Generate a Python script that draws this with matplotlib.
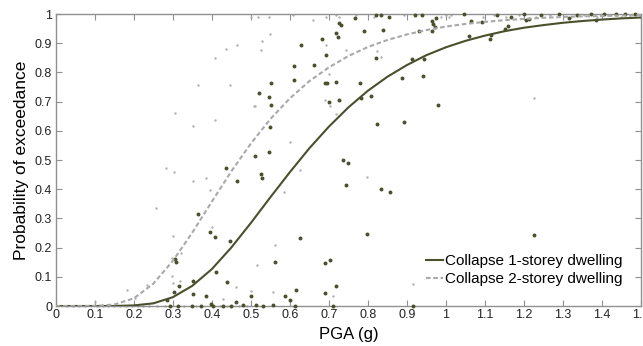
import numpy as np
import matplotlib
matplotlib.use("Agg")
import matplotlib.pyplot as plt

plt.rcParams['font.family'] = ['Liberation Sans', 'DejaVu Sans']

# fragility curves
pga = [0.0, 0.05, 0.10, 0.15, 0.20, 0.25, 0.30, 0.35, 0.40, 0.45, 0.50,
       0.55, 0.60, 0.65, 0.70, 0.75, 0.80, 0.85, 0.90, 0.95, 1.00,
       1.05, 1.10, 1.15, 1.20, 1.25, 1.30, 1.35, 1.40, 1.45, 1.50]
p_1storey = [0.0, 0.0, 0.0, 0.0001, 0.002, 0.009, 0.030, 0.069, 0.126, 0.200, 0.284,
             0.372, 0.458, 0.540, 0.614, 0.680, 0.737, 0.785, 0.825, 0.859, 0.886,
             0.908, 0.926, 0.941, 0.953, 0.962, 0.970, 0.976, 0.981, 0.985, 0.988]
p_2storey = [0.0, 0.0, 0.0002, 0.005, 0.026, 0.076, 0.154, 0.251, 0.357, 0.461, 0.556,
             0.640, 0.711, 0.770, 0.817, 0.856, 0.887, 0.911, 0.930, 0.945, 0.957,
             0.966, 0.973, 0.979, 0.983, 0.987, 0.990, 0.992, 0.993, 0.995, 0.996]

# observed points, 1-storey (dark)
x1 = [0.629, 0.683, 0.693, 0.719, 0.724, 0.727, 0.732, 0.768, 0.791, 0.838, 0.853,
      0.612, 0.661, 0.611, 0.551, 0.520, 0.548, 0.552, 0.690, 0.696, 0.719, 0.780,
      0.700, 0.727, 0.782, 0.807, 0.822, 0.888, 0.913, 0.944, 0.941, 0.964, 0.968,
      0.972, 0.976, 0.965, 0.932, 0.980, 0.824, 0.894, 0.550, 0.546, 0.511,
      1.064, 1.092, 1.060, 1.113, 1.115, 1.152, 1.160, 1.166, 1.206, 1.213, 1.315,
      1.384, 1.226,
      0.436, 0.465, 0.365, 0.395, 0.408, 0.448, 0.305, 0.308, 0.410, 0.353, 0.315,
      0.303, 0.440, 0.352, 0.384, 0.286, 0.463, 0.501, 0.736, 0.749, 0.525, 0.529,
      0.744, 0.834, 0.858, 0.797, 0.627, 0.562, 0.691, 0.702, 0.719, 0.615, 0.587,
      0.600, 0.691,
      0.292, 0.314, 0.350, 0.373, 0.399, 0.403, 0.430, 0.450, 0.480, 0.514, 0.531,
      0.556, 0.614, 0.710, 0.917,
      0.821, 0.834, 0.921, 0.940, 1.047, 1.132, 1.200, 1.243, 1.290, 1.337, 1.371,
      1.405, 1.435, 1.460, 1.486]
y1 = [0.893, 0.914, 0.861, 0.935, 0.921, 0.969, 0.963, 0.986, 0.941, 0.945, 0.990,
      0.821, 0.825, 0.774, 0.764, 0.728, 0.717, 0.688, 0.763, 0.763, 0.768, 0.763,
      0.700, 0.705, 0.712, 0.720, 0.848, 0.782, 0.845, 0.847, 0.789, 0.977, 0.965,
      0.955, 0.985, 0.941, 0.943, 0.688, 0.624, 0.629, 0.613, 0.527, 0.513,
      0.975, 0.973, 0.924, 0.914, 0.929, 0.950, 0.958, 0.990, 0.981, 0.983, 0.986,
      0.981, 0.243,
      0.474, 0.429, 0.316, 0.252, 0.236, 0.224, 0.161, 0.152, 0.118, 0.087, 0.067,
      0.048, 0.083, 0.040, 0.035, 0.020, 0.013, 0.035, 0.500, 0.489, 0.453, 0.439,
      0.413, 0.401, 0.389, 0.248, 0.232, 0.152, 0.148, 0.159, 0.067, 0.056, 0.035,
      0.021, 0.043,
      0.0, 0.0, 0.0, 0.0, 0.006, 0.0, 0.0, 0.0, 0.003, 0.003, 0.0,
      0.003, 0.0, 0.001, 0.0,
      0.997, 0.997, 0.998, 0.996, 0.999, 0.998, 0.999, 0.998, 0.999, 0.998, 0.999,
      0.999, 0.999, 1.0, 1.0]

# observed points, 2-storey (light grey)
x2 = [0.305, 0.352, 0.365, 0.409, 0.409, 0.436, 0.448, 0.465, 0.508, 0.550, 0.528,
      0.527, 0.659, 0.693, 0.700, 0.744, 0.824, 0.834, 0.511, 0.691, 0.702, 0.719,
      0.601, 1.226, 0.284, 0.303, 0.352, 0.384, 0.395, 0.258, 0.301, 0.401, 0.297,
      0.320, 0.298, 0.301, 0.318, 0.235, 0.184, 0.463, 0.501, 0.429, 0.203, 0.100,
      0.625, 0.586, 0.797, 0.562, 0.516, 0.917, 0.556, 0.710,
      0.030, 0.045, 0.060, 0.075, 0.090, 0.105, 0.120, 0.135, 0.150, 0.165, 0.180,
      0.195, 0.210, 0.225, 0.240, 0.260, 0.280, 0.330, 0.360, 0.420, 0.440, 0.470,
      0.490,
      0.500, 0.518, 0.548, 0.608, 0.693, 0.719, 0.727, 0.770, 0.817, 0.893, 0.987,
      1.000, 1.008, 1.014, 1.094, 1.124, 1.153, 1.187, 1.230, 1.268, 1.320, 1.354,
      1.388, 1.422, 1.448, 1.473]
y2 = [0.660, 0.616, 0.757, 0.849, 0.636, 0.881, 0.757, 0.893, 0.685, 0.932, 0.906,
      0.878, 0.981, 0.893, 0.795, 0.878, 0.874, 0.853, 0.684, 0.707, 0.684, 0.658,
      0.562, 0.713, 0.471, 0.458, 0.429, 0.439, 0.397, 0.337, 0.240, 0.272, 0.163,
      0.180, 0.104, 0.080, 0.086, 0.072, 0.055, 0.066, 0.052, 0.024, 0.028, 0.015,
      0.466, 0.391, 0.443, 0.209, 0.140, 0.075, 0.049, 0.035,
      0.0, 0.0, 0.0, 0.0, 0.0, 0.0, 0.0, 0.0, 0.0, 0.0, 0.0,
      0.0, 0.0, 0.0, 0.0, 0.0, 0.0, 0.0, 0.0, 0.0, 0.0, 0.0,
      0.0,
      0.99, 0.99, 0.99, 0.995, 0.99, 0.995, 0.99, 0.995, 0.99, 0.995, 0.99,
      0.995, 0.99, 0.995, 0.99, 0.995, 0.99, 0.995, 0.99, 0.995, 0.99, 0.995,
      0.99, 0.995, 0.99, 0.995]

xticks = np.round(np.arange(0, 1.51, 0.1), 1)
xticklabels = ['0', '0.1', '0.2', '0.3', '0.4', '0.5', '0.6', '0.7', '0.8', '0.9',
               '1', '1.1', '1.2', '1.3', '1.4', '1.5']
yticks = np.round(np.arange(0, 1.01, 0.1), 1)
yticklabels = ['0', '0.1', '0.2', '0.3', '0.4', '0.5', '0.6', '0.7', '0.8', '0.9', '1']

dark = '#4b4f2c'
grey = '#a9a9a9'

fig = plt.figure(figsize=(6.43, 3.46), dpi=100)
ax = fig.add_axes([0.0866, 0.1156, 0.9102, 0.8439])

ax.scatter(x2, y2, s=3, color='#b0b0b0', linewidths=0, clip_on=False, zorder=2)
ax.scatter(x1, y1, s=8, color=dark, linewidths=0, clip_on=False, zorder=3)

ax.plot(pga, p_1storey, color=dark, lw=1.5, label='Collapse 1-storey dwelling', zorder=4)
ax.plot(pga, p_2storey, color=grey, lw=1.5, ls=(0, (2.2, 1.3)),
        label='Collapse 2-storey dwelling', zorder=4)

ax.set_xlim(0, 1.5)
ax.set_ylim(0, 1)
ax.set_xticks(xticks)
ax.set_xticklabels(xticklabels)
ax.set_yticks(yticks)
ax.set_yticklabels(yticklabels)
ax.tick_params(direction='in', top=True, right=True, length=4, width=0.8,
               color='#909090', labelsize=9, labelcolor='#222222', pad=2.5)
for s in ax.spines.values():
    s.set_color('#909090')
    s.set_linewidth(1.0)

ax.set_xlabel('PGA (g)', fontsize=12, labelpad=4)
ax.set_ylabel('Probability of exceedance', fontsize=12.5, labelpad=4)

ax.legend(loc='lower right', bbox_to_anchor=(0.969, 0.068), frameon=False,
          fontsize=11, handlelength=1.1, handletextpad=0.15, labelspacing=0.25,
          borderpad=0, borderaxespad=0)

fig.savefig('out.png', dpi=100)
